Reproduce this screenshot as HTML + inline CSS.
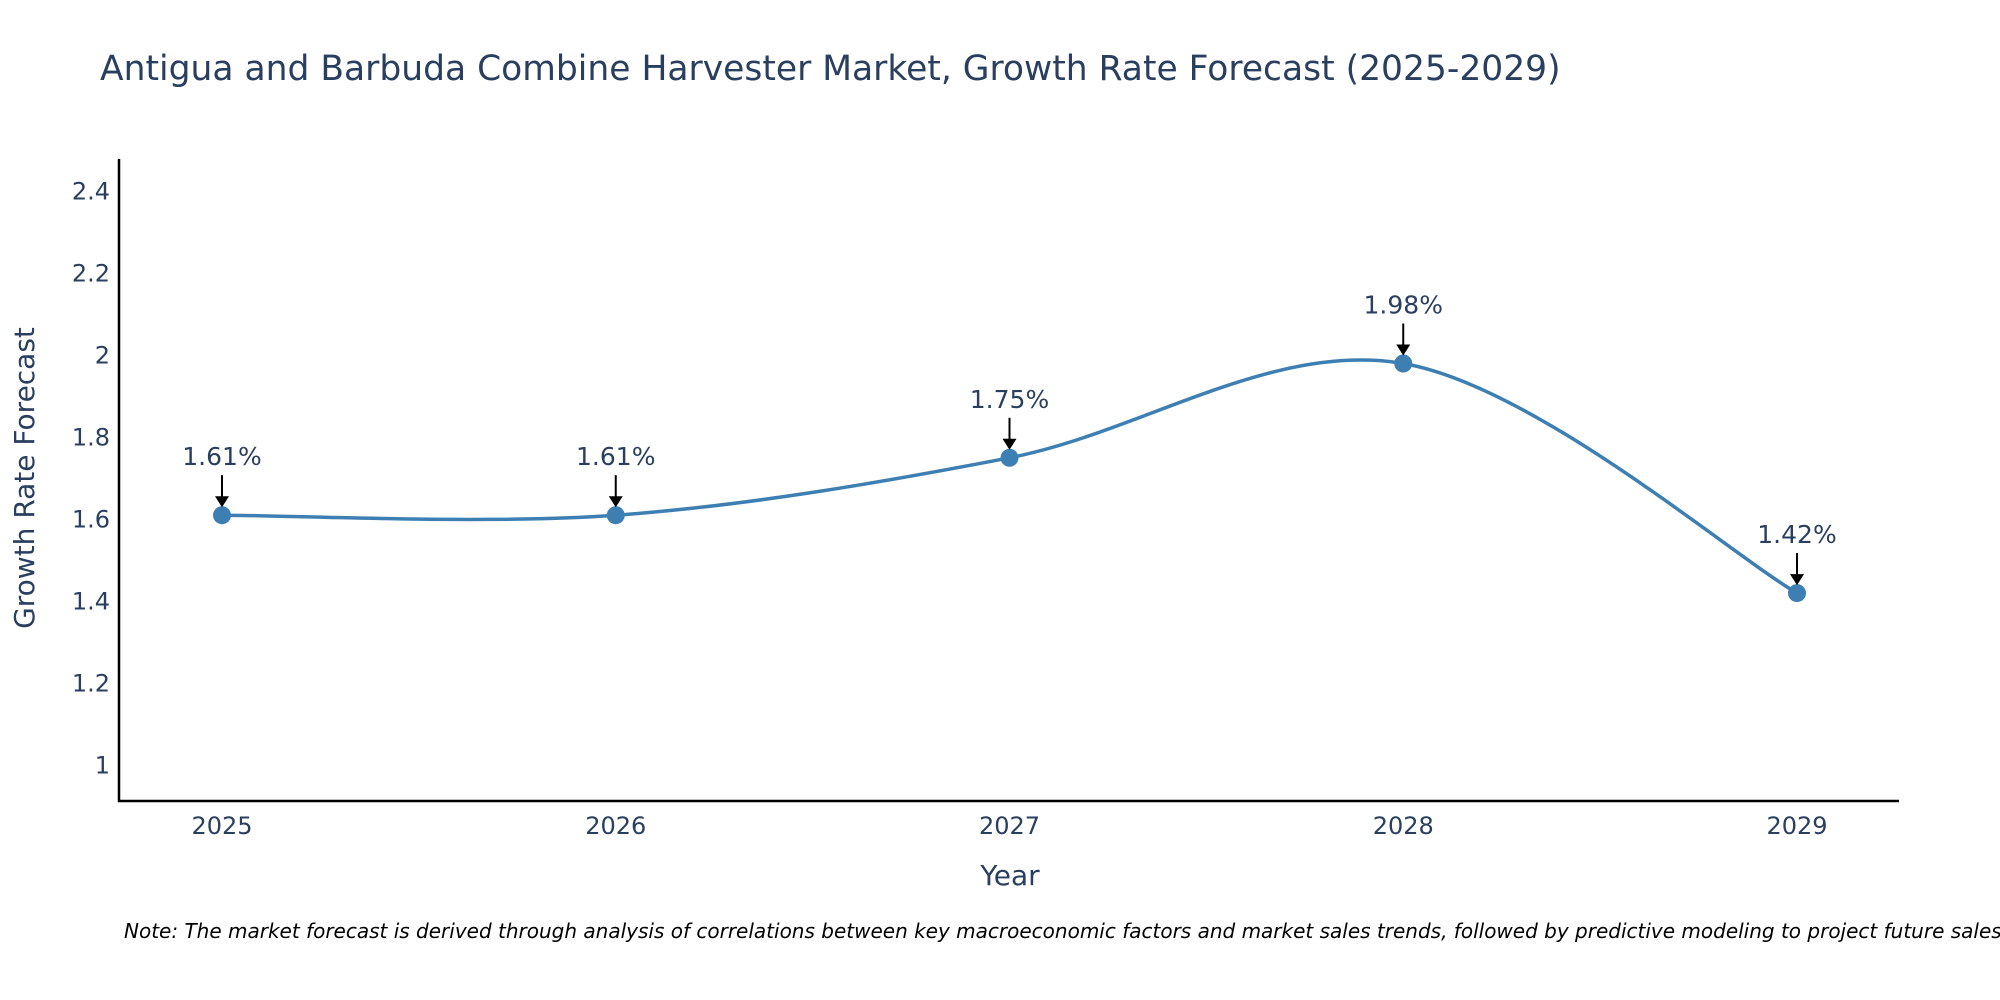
<!DOCTYPE html>
<html><head><meta charset="utf-8">
<style>
html,body{margin:0;padding:0;background:#fff;}
svg{display:block;font-family:"DejaVu Sans","Liberation Sans",sans-serif;}
</style></head>
<body>
<svg id="chart" width="2000" height="1000" viewBox="0 0 2000 1000">
<text x="100" y="80" font-size="34.5" fill="#2a3f5f">Antigua and Barbuda Combine Harvester Market, Growth Rate Forecast (2025-2029)</text>
<g id="axes"></g>
<g id="series"></g>
<text x="1010" y="885" font-size="28" fill="#2a3f5f" text-anchor="middle">Year</text>
<text transform="translate(34,478) rotate(-90)" font-size="28" fill="#2a3f5f" text-anchor="middle">Growth Rate Forecast</text>
<text x="124" y="938" font-size="20" font-style="italic" fill="#000">Note: The market forecast is derived through analysis of correlations between key macroeconomic factors and market sales trends, followed by predictive modeling to project future sales.</text>
</svg>
<script>
const categories = ["2025","2026","2027","2028","2029"];
const values = [1.61, 1.61, 1.75, 1.98, 1.42];
const valueLabels = ["1.61%","1.61%","1.75%","1.98%","1.42%"];
const yTicks = [1, 1.2, 1.4, 1.6, 1.8, 2, 2.2, 2.4];
const yTickLabels = ["1","1.2","1.4","1.6","1.8","2","2.2","2.4"];

const NS = "http://www.w3.org/2000/svg";
const X0 = 222, X1 = 1797, YA = 765.3, YB = 191.3;
const xS = i => X0 + i * (X1 - X0) / (categories.length - 1);
const yS = v => YA + (v - 1) * (YB - YA) / 1.4;
function mk(tag, attrs, parent){const e=document.createElementNS(NS,tag);for(const k in attrs)e.setAttribute(k,attrs[k]);parent.appendChild(e);return e;}
const axes = document.getElementById('axes'), series = document.getElementById('series');

let yl = mk('line',{x1:119,y1:159,x2:119,y2:802,stroke:'#000','stroke-width':2.5},axes);


let xl = mk('line',{x1:118,y1:801,x2:1899,y2:801,stroke:'#000','stroke-width':2.5},axes);



yTicks.forEach((t,i)=>{
  const e = mk('text',{x:110,y:yS(t)+8,'font-size':24,fill:'#2a3f5f','text-anchor':'end'},axes);
  e.textContent = yTickLabels[i];
  
  
});
categories.forEach((c,i)=>{
  const e = mk('text',{x:xS(i),y:834,'font-size':24,fill:'#2a3f5f','text-anchor':'middle'},axes);
  e.textContent = c;
  
  
});

const pts = values.map((v,i)=>[xS(i),yS(v)]);
let d = `M${pts[0][0]},${pts[0][1]}`;
for(let i=0;i<pts.length-1;i++){
  const p0=pts[Math.max(0,i-1)],p1=pts[i],p2=pts[i+1],p3=pts[Math.min(pts.length-1,i+2)];
  const t=1/6;
  const c1=[p1[0]+(p2[0]-p0[0])*t,p1[1]+(p2[1]-p0[1])*t];
  const c2=[p2[0]-(p3[0]-p1[0])*t,p2[1]-(p3[1]-p1[1])*t];
  d+=` C${c1[0]},${c1[1]} ${c2[0]},${c2[1]} ${p2[0]},${p2[1]}`;
}
const line = mk('path',{d:d,fill:'none',stroke:'#3d7fb3','stroke-width':3.5},series);



pts.forEach((p,i)=>{
  const c = mk('circle',{cx:p[0],cy:p[1],r:9,fill:'#3d7fb3'},series);
  
  
  const a = mk('line',{x1:p[0],y1:p[1]-40,x2:p[0],y2:p[1]-16,stroke:'#000','stroke-width':2},series);
  
  
  const h = mk('polygon',{points:`${p[0]-7},${p[1]-19} ${p[0]+7},${p[1]-19} ${p[0]},${p[1]-8}`,fill:'#000'},series);
  
  
  const t = mk('text',{x:p[0],y:p[1]-50,'font-size':25,fill:'#2a3f5f','text-anchor':'middle'},series);
  t.textContent = valueLabels[i];
  
  
});
</script>
</body></html>
